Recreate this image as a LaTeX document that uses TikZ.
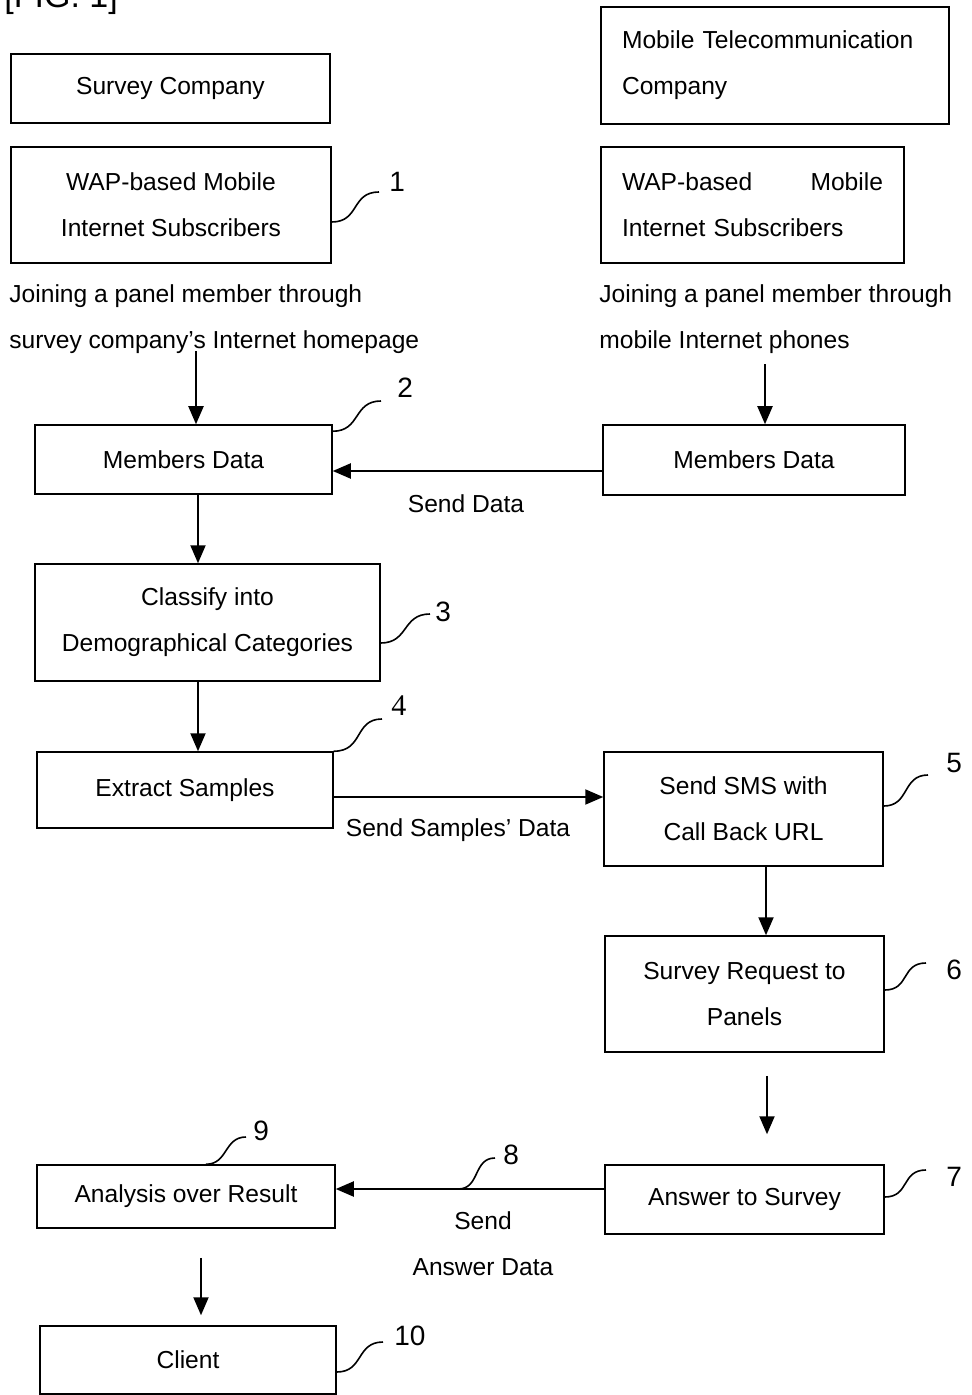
\documentclass[tikz,border=0pt]{standalone}
\usepackage{fontspec}
\setmainfont{Liberation Sans}
\newfontfamily\numserif{Liberation Serif}
\usetikzlibrary{arrows.meta,calc}

\begin{document}
\begin{tikzpicture}[x=0.5pt,y=-0.5pt,
  box/.style={draw,line width=.75pt,inner sep=0pt,align=center,font=\fontsize{12.3}{23}\selectfont},
  arr/.style={line width=1pt,-{Triangle[length=9pt,width=7.5pt]}},
  lead/.style={line width=.8pt},
  num/.style={anchor=west,inner sep=0pt,font=\fontsize{14}{16}\selectfont},
  txt/.style={align=left,inner sep=0pt,font=\fontsize{12.3}{23}\selectfont}]
  \useasboundingbox (0,0) rectangle (971,1395);

  \node[anchor=base west,inner sep=0pt,font=\fontsize{17}{20}\selectfont] (fig) at (4,8) {[FIG. 1]};

  % top boxes
  \node[box,minimum width=159.5pt,minimum height=34.5pt] (sc) at (170.5,88.5) {Survey Company};
  \node[box,align=left,text width=153pt,inner xsep=10.5pt,minimum height=58.5pt] (mtc) at (775,65.5) {Mobile Telecommunication\\Company};
  \node[box,minimum width=160pt,minimum height=58pt] (wapl) at (171,205) {WAP-based Mobile\\Internet Subscribers};
  \node[box,align=left,text width=130.5pt,inner xsep=10.5pt,minimum height=58pt] (wapr) at (752.5,205) {WAP-based\hfill Mobile\\Internet Subscribers};
  \node[txt,anchor=west] (jl) at (9,319) {Joining a panel member through\\survey company's Internet homepage};
  \node[txt,anchor=west] (jr) at (599,319) {Joining a panel member through\\mobile Internet phones};

  % flow boxes
  \node[box,minimum width=148.5pt,minimum height=34.5pt] (mdl) at (183.5,459.5) {Members Data};
  \node[box,minimum width=151pt,minimum height=35pt] (mdr) at (754,460) {Members Data};
  \node[box,minimum width=172.5pt,minimum height=58.5pt] (cls) at (207.5,622.5) {Classify into\\Demographical Categories};
  \node[box,minimum width=148pt,minimum height=38pt] (ext) at (185,790) {Extract Samples};
  \node[box,minimum width=139.5pt,minimum height=57pt] (sms) at (743.5,809) {Send SMS with\\Call Back URL};
  \node[box,minimum width=139.5pt,minimum height=58pt] (req) at (744.5,994) {Survey Request to\\Panels};
  \node[box,minimum width=139.5pt,minimum height=34.5pt] (ans) at (744.5,1199.5) {Answer to Survey};
  \node[box,minimum width=149pt,minimum height=31.5pt] (anl) at (186,1196.5) {Analysis over Result};
  \node[box,minimum width=148pt,minimum height=34pt] (cli) at (188,1360) {Client};

  % arrows
  \draw[arr] ($(mdl.north)+(12.5,-73)$) -- ($(mdl.north)+(12.5,0)$);
  \draw[arr] ($(mdr.north)+(11,-60)$) -- ($(mdr.north)+(11,0)$);
  \draw[arr] ($(mdr.west)+(0,11)$) coordinate (a0) -- (a0 -| mdl.east);
  \node[txt] (sdl) at (466,504) {Send Data};
  \draw[arr] ($(mdl.south)+(14.5,0)$) coordinate (a1) -- (a1 |- cls.north);
  \draw[arr] (a1 |- cls.south) -- (a1 |- ext.north);
  \draw[arr] ($(ext.east)+(0,7)$) coordinate (a3) -- (a3 -| sms.west);
  \node[txt] (ssl) at (458,830) {Send Samples' Data};
  \draw[arr] ($(sms.south)+(22.5,0)$) coordinate (a4) -- (a4 |- req.north);
  \draw[arr] ($(req.south)+(22.5,23)$) -- ($(ans.north)+(22.5,-30)$);
  \draw[arr] ($(ans.west)+(0,-10.5)$) coordinate (a6) -- (a6 -| anl.east);
  \node[box,draw=none] (sal) at (483,1244) {Send\\Answer Data};
  \draw[arr] ($(anl.south)+(15,29)$) -- ($(cli.north)+(13,-10)$);

  % reference numbers
  \coordinate (t1) at (379,192);
  \draw[lead] ($(wapl.east)+(0,17)$) .. controls +(28,0) and +(-28,0) .. (t1);
  \node[num] (n1) at (389,182) {1};
  \coordinate (t2) at (381,401);
  \draw[lead] ($(mdl.north east)+(0,7)$) .. controls +(28,0) and +(-28,0) .. (t2);
  \node[num] (n2) at (397,388) {2};
  \coordinate (t3) at (430,614);
  \draw[lead] ($(cls.east)+(0,20.5)$) .. controls +(28,0) and +(-28,0) .. (t3);
  \node[num] (n3) at (435,612) {3};
  \coordinate (t4) at (382,719);
  \draw[lead] (ext.north east) .. controls +(30,0) and +(-28,0) .. (t4);
  \node[num,font=\numserif\fontsize{15}{16}\selectfont] (n4) at (391,706) {4};
  \coordinate (t5) at (928,775);
  \draw[lead] ($(sms.east)+(0,-3)$) .. controls +(26,0) and +(-26,0) .. (t5);
  \node[num] (n5) at (946,763) {5};
  \coordinate (t6) at (926,963);
  \draw[lead] ($(req.east)+(0,-4)$) .. controls +(25,0) and +(-25,0) .. (t6);
  \node[num] (n6) at (946,970) {6};
  \coordinate (t7) at (926,1170);
  \draw[lead] ($(ans.east)+(0,-2.5)$) .. controls +(25,0) and +(-25,0) .. (t7);
  \node[num] (n7) at (946,1177) {7};
  \coordinate (t8) at (495,1158);
  \draw[lead] ($(a6)!0.544!(a6 -| anl.east)$) .. controls +(22,0) and +(-22,0) .. (t8);
  \node[num] (n8) at (503,1155) {8};
  \coordinate (t9) at (246,1137);
  \draw[lead] ($(anl.north)+(20,0)$) .. controls +(22,0) and +(-22,0) .. (t9);
  \node[num] (n9) at (253,1131) {9};
  \coordinate (t10) at (383,1342);
  \draw[lead] ($(cli.east)+(0,12)$) .. controls +(27,0) and +(-27,0) .. (t10);
  \node[num] (n10) at (394,1336) {10};
\end{tikzpicture}
\end{document}
